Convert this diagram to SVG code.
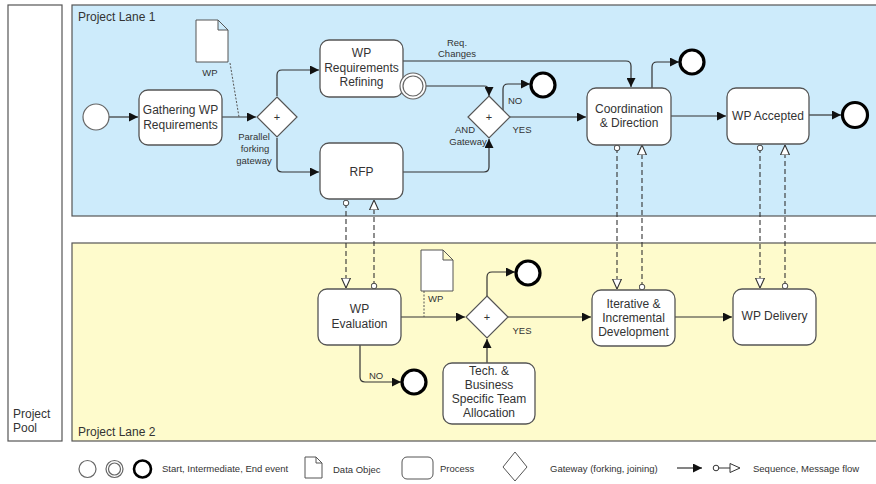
<svg xmlns="http://www.w3.org/2000/svg" width="876" height="484" viewBox="0 0 876 484">
  <style>
    text { font-family: "Liberation Sans", Arial, sans-serif; fill: #333; }
    .t { font-size: 12px; text-anchor: middle; }
    .s { font-size: 9.5px; }
    .sc { font-size: 9.5px; text-anchor: middle; }
    .lane-label { font-size: 12px; }
    .task { fill: #fff; stroke: #555; stroke-width: 1.3; }
    .gw { fill: #fff; stroke: #555; stroke-width: 1.2; }
    .start { fill: #fff; stroke: #666; stroke-width: 1.2; }
    .end { fill: #fff; stroke: #000; stroke-width: 3.2; }
    .doc { fill: #fff; stroke: #555; stroke-width: 1; }
    .seq { fill: none; stroke: #333; stroke-width: 1.2; }
    .msg { fill: none; stroke: #333; stroke-width: 1.1; stroke-dasharray: 5 3; }
    .assoc { fill: none; stroke: #555; stroke-width: 1; stroke-dasharray: 2 1.5; }
  </style>
  <defs>
    <marker id="arrow" viewBox="0 0 10 10" refX="10" refY="5" markerWidth="9" markerHeight="9" markerUnits="userSpaceOnUse" orient="auto">
      <path d="M0,0 L10,5 L0,10 z" fill="#111"/>
    </marker>
    <marker id="open" viewBox="0 0 10 10" refX="10" refY="5" markerWidth="10" markerHeight="10" markerUnits="userSpaceOnUse" orient="auto">
      <path d="M0,0.5 L10,5 L0,9.5 z" fill="#fff" stroke="#333" stroke-width="1.1"/>
    </marker>
    <marker id="dot" viewBox="0 0 10 10" refX="5" refY="5" markerWidth="7" markerHeight="7" markerUnits="userSpaceOnUse" orient="auto">
      <circle cx="5" cy="5" r="4" fill="#fff" stroke="#333" stroke-width="1.3"/>
    </marker>
  </defs>

  <rect width="876" height="484" fill="#fff"/>

  <!-- pool and lanes -->
  <g id="pool">
    <rect x="8" y="5" width="54" height="436" fill="#fff" stroke="#555" stroke-width="1.2"/>
    <text class="lane-label" x="13" y="418">Project</text>
    <text class="lane-label" x="13" y="432">Pool</text>
  </g>
  <g id="lane1">
    <rect x="72" y="5" width="810" height="211" fill="#cdebfb" stroke="#555" stroke-width="1.2"/>
    <text class="lane-label" x="78" y="21">Project Lane 1</text>
  </g>
  <g id="lane2">
    <rect x="72" y="243" width="810" height="198" fill="#fefbcc" stroke="#555" stroke-width="1.2"/>
    <text class="lane-label" x="78" y="436">Project Lane 2</text>
  </g>

  <!-- connectors -->
  <g id="connectors">
    <!-- lane 1 sequence flows -->
    <path class="seq" d="M109,117 H138" marker-end="url(#arrow)"/>
    <path class="seq" d="M222,117 H256" marker-end="url(#arrow)"/>
    <path class="seq" d="M277,96 V75 Q277,70 282,70 H319" marker-end="url(#arrow)"/>
    <path class="seq" d="M277,138 V167 Q277,172 282,172 H319" marker-end="url(#arrow)"/>
    <path class="seq" d="M426,86 H484 Q489,86 489,91 V96" marker-end="url(#arrow)"/>
    <path class="seq" d="M403,172 H484 Q489,172 489,167 V139" marker-end="url(#arrow)"/>
    <path class="seq" d="M503,110 V89 Q503,84 508,84 H530" marker-end="url(#arrow)"/>
    <path class="seq" d="M510,117 H586" marker-end="url(#arrow)"/>
    <path class="seq" d="M403,61 H626 Q631,61 631,66 V87" marker-end="url(#arrow)"/>
    <path class="seq" d="M652,88 V67 Q652,62 657,62 H679" marker-end="url(#arrow)"/>
    <path class="seq" d="M671,116 H726" marker-end="url(#arrow)"/>
    <path class="seq" d="M809,115 H841" marker-end="url(#arrow)"/>
    <path class="assoc" d="M230,63 L239,117"/>

    <!-- lane 2 sequence flows -->
    <path class="seq" d="M401,317 H465" marker-end="url(#arrow)"/>
    <path class="seq" d="M487,296 V277 Q487,272 492,272 H515" marker-end="url(#arrow)"/>
    <path class="seq" d="M508,317 H591" marker-end="url(#arrow)"/>
    <path class="seq" d="M487,363 V339" marker-end="url(#arrow)"/>
    <path class="seq" d="M360,345 V377 Q360,382 365,382 H401" marker-end="url(#arrow)"/>
    <path class="seq" d="M675,317 H732" marker-end="url(#arrow)"/>
    <path class="assoc" d="M424,291 V317"/>

    <!-- message flows -->
    <path class="msg" d="M346,203 V288" marker-start="url(#dot)" marker-end="url(#open)"/>
    <path class="msg" d="M374,286 V200" marker-start="url(#dot)" marker-end="url(#open)"/>
    <path class="msg" d="M617,148 V289" marker-start="url(#dot)" marker-end="url(#open)"/>
    <path class="msg" d="M642,287 V145" marker-start="url(#dot)" marker-end="url(#open)"/>
    <path class="msg" d="M760,148 V288" marker-start="url(#dot)" marker-end="url(#open)"/>
    <path class="msg" d="M785,286 V145" marker-start="url(#dot)" marker-end="url(#open)"/>
  </g>

  <!-- lane 1 nodes -->
  <g id="start1"><circle class="start" cx="96" cy="117" r="13"/></g>
  <g id="gathering">
    <rect class="task" x="139" y="90" width="83" height="55" rx="9"/>
    <text class="t" x="180.5" y="114">Gathering WP</text>
    <text class="t" x="180.5" y="129">Requirements</text>
  </g>
  <g id="doc1">
    <path class="doc" d="M196,20 H218 L228,30 V62 H196 Z M218,20 V30 H228"/>
    <text class="sc" x="210" y="76">WP</text>
  </g>
  <g id="fork">
    <path class="gw" d="M277,97 L297,117 L277,137 L257,117 Z"/>
    <text class="t" x="277" y="121" style="font-size:11px">+</text>
    <text class="sc" x="254" y="140">Parallel</text>
    <text class="sc" x="255" y="152">forking</text>
    <text class="sc" x="254" y="164">gateway</text>
  </g>
  <g id="refining">
    <rect class="task" x="320" y="40" width="83" height="57" rx="9"/>
    <text class="t" x="361.5" y="57">WP</text>
    <text class="t" x="361.5" y="72">Requirements</text>
    <text class="t" x="361.5" y="86">Refining</text>
    <circle class="start" cx="413" cy="86" r="13"/>
    <circle class="start" cx="413" cy="86" r="10"/>
  </g>
  <g id="rfp">
    <rect class="task" x="320" y="143" width="83" height="56" rx="9"/>
    <text class="t" x="361.5" y="176">RFP</text>
  </g>
  <g id="and-gateway">
    <path class="gw" d="M489,96 L510,117 L489,138 L468,117 Z"/>
    <text class="t" x="489" y="121" style="font-size:11px">+</text>
    <text class="sc" x="465" y="133">AND</text>
    <text class="sc" x="468" y="145">Gateway</text>
    <text class="sc" x="515" y="104">NO</text>
    <text class="sc" x="522" y="133">YES</text>
  </g>
  <g id="end1"><circle class="end" cx="543" cy="85" r="12"/></g>
  <g id="req-changes">
    <text class="sc" x="457" y="46">Req.</text>
    <text class="sc" x="457" y="57">Changes</text>
  </g>
  <g id="coordination">
    <rect class="task" x="587" y="88" width="84" height="57" rx="9"/>
    <text class="t" x="629" y="113">Coordination</text>
    <text class="t" x="629" y="127">&amp; Direction</text>
  </g>
  <g id="end2"><circle class="end" cx="692" cy="62" r="12"/></g>
  <g id="accepted">
    <rect class="task" x="727" y="88" width="82" height="56" rx="9"/>
    <text class="t" x="768" y="120">WP Accepted</text>
  </g>
  <g id="end3"><circle class="end" cx="855" cy="115" r="12.5"/></g>

  <!-- lane 2 nodes -->
  <g id="evaluation">
    <rect class="task" x="318" y="289" width="83" height="56" rx="9"/>
    <text class="t" x="359.5" y="313">WP</text>
    <text class="t" x="359.5" y="328">Evaluation</text>
    <text class="sc" x="376" y="379">NO</text>
  </g>
  <g id="end4"><circle class="end" cx="414" cy="382" r="12"/></g>
  <g id="doc2">
    <path class="doc" d="M421,250 H443 L453,260 V291 H421 Z M443,250 V260 H453"/>
    <text class="s" x="428" y="302">WP</text>
  </g>
  <g id="join">
    <path class="gw" d="M487,296 L508,317 L487,338 L466,317 Z"/>
    <text class="t" x="487" y="321" style="font-size:11px">+</text>
    <text class="sc" x="522" y="334">YES</text>
  </g>
  <g id="end5"><circle class="end" cx="528" cy="273" r="12"/></g>
  <g id="allocation">
    <rect class="task" x="443" y="363" width="92" height="61" rx="9"/>
    <text class="t" x="489" y="375">Tech. &amp;</text>
    <text class="t" x="489" y="389">Business</text>
    <text class="t" x="489" y="403">Specific Team</text>
    <text class="t" x="489" y="417">Allocation</text>
  </g>
  <g id="iterative">
    <rect class="task" x="592" y="290" width="83" height="56" rx="9"/>
    <text class="t" x="633.5" y="308">Iterative &amp;</text>
    <text class="t" x="633.5" y="322">Incremental</text>
    <text class="t" x="633.5" y="336">Development</text>
  </g>
  <g id="delivery">
    <rect class="task" x="733" y="289" width="83" height="56" rx="9"/>
    <text class="t" x="774.5" y="320">WP Delivery</text>
  </g>

  <!-- legend -->
  <g id="legend">
    <circle class="start" cx="87.5" cy="469" r="8.5"/>
    <circle class="start" cx="114.5" cy="469" r="8.5"/>
    <circle class="start" cx="114.5" cy="469" r="6"/>
    <circle class="end" cx="142.5" cy="469" r="8.5" style="stroke-width:2.6"/>
    <text class="s" x="162" y="472">Start, Intermediate, End event</text>
    <path class="doc" d="M305,457 H316 L322,463 V478 H305 Z M316,457 V463 H322"/>
    <text class="s" x="333" y="473">Data Objec</text>
    <rect class="task" x="402" y="457" width="31" height="22" rx="5" style="stroke-width:1"/>
    <text class="s" x="440" y="472">Process</text>
    <path class="gw" d="M515,452 L527,467 L515,481 L503,467 Z" style="stroke-width:1"/>
    <text class="s" x="550" y="472">Gateway (forking, joining)</text>
    <path class="seq" d="M677,468 H702" marker-end="url(#arrow)"/>
    <circle cx="716" cy="468" r="2.8" fill="#fff" stroke="#333" stroke-width="1"/>
    <path d="M718.8,468 H730" stroke="#333" stroke-width="1"/>
    <path d="M730,463.5 L740,468 L730,472.5 Z" fill="#fff" stroke="#333" stroke-width="1"/>
    <text class="s" x="753" y="472">Sequence, Message flow</text>
  </g>
</svg>
